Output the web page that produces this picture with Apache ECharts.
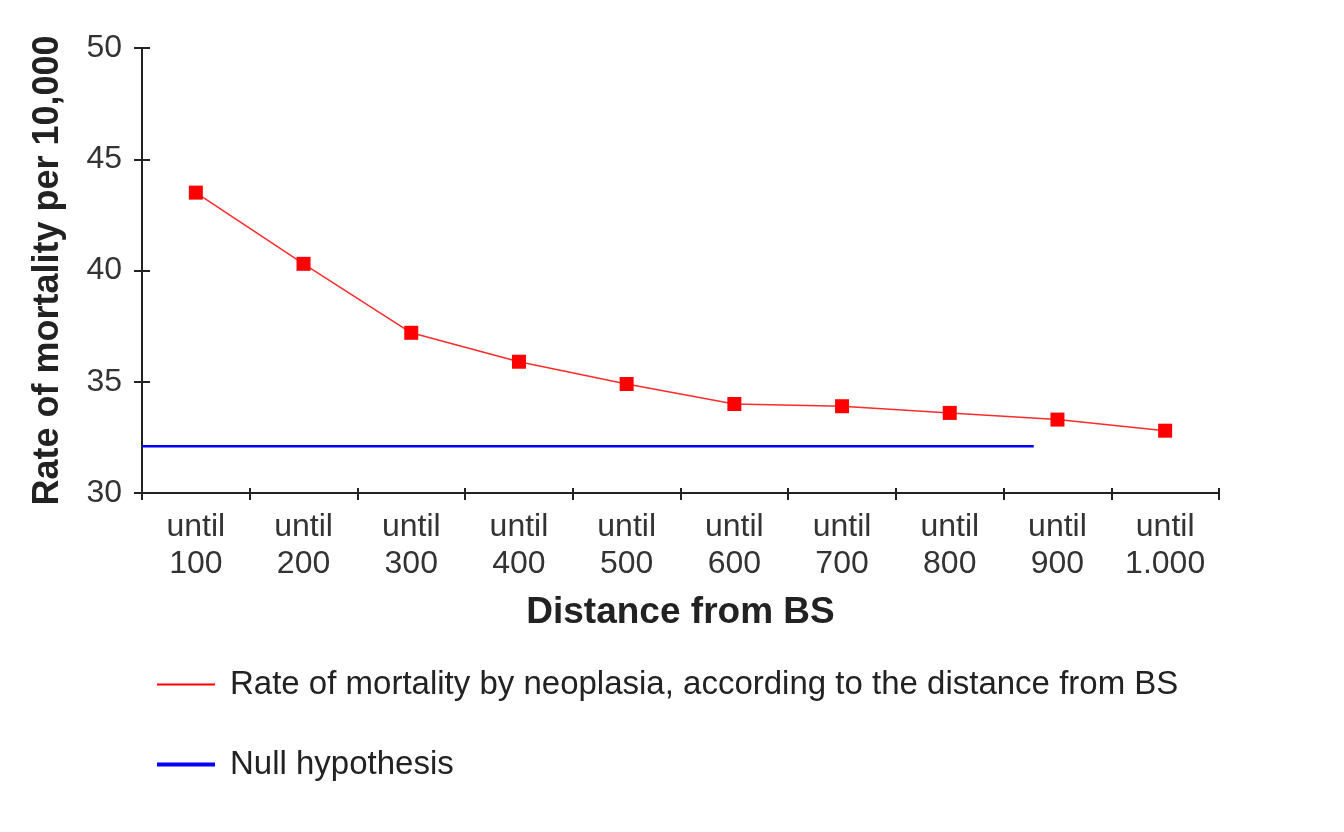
<!DOCTYPE html>
<html>
<head>
<meta charset="utf-8">
<script src="https://cdn.jsdelivr.net/npm/echarts@6/dist/echarts.min.js"></script>
<style>
  html, body { margin: 0; padding: 0; background: #fff; }
  #chart { width: 1344px; height: 832px; }
</style>
</head>
<body>
<div id="chart"></div>
<script>
// categories (distance from BS)
var categories = ['until\n100', 'until\n200', 'until\n300', 'until\n400', 'until\n500',
  'until\n600', 'until\n700', 'until\n800', 'until\n900', 'until\n1.000']
// rate of mortality per 10,000
var mortality = [43.5, 40.3, 37.2, 35.9, 34.9, 34.0, 33.9, 33.6, 33.3, 32.8]
// null hypothesis: [position along the axis (in categories), value]
var nullHypothesis = [[0, 32.1], [8.28, 32.1]]
var yTicks = { min: 30, max: 50, interval: 5 }

var redName = 'Rate of mortality by neoplasia, according to the distance from BS'
var blueName = 'Null hypothesis'

var chart = echarts.init(document.getElementById('chart'))
var font = "'Liberation Sans', Arial, sans-serif"
var tickStyle = { color: '#222', width: 2 }
var option = {
  backgroundColor: '#fff',
  animation: false,
  grid: { left: 142, right: 125, top: 48, bottom: 339 },
  legend: [{
    data: [redName],
    orient: 'vertical',
    left: 152,
    top: 663,
    icon: 'rect',
    itemWidth: 58,
    itemHeight: 2,
    textStyle: { fontFamily: font, fontSize: 33, color: '#222', padding: [0, 0, 0, 10] }
  }, {
    data: [blueName],
    orient: 'vertical',
    left: 152,
    top: 743,
    icon: 'rect',
    itemWidth: 58,
    itemHeight: 4,
    textStyle: { fontFamily: font, fontSize: 33, color: '#222', padding: [0, 0, 0, 10] }
  }],
  xAxis: [{
    type: 'category',
    data: categories,
    boundaryGap: true,
    name: 'Distance from BS',
    nameLocation: 'middle',
    nameGap: 101,
    nameTextStyle: { fontFamily: font, fontSize: 37, fontWeight: 'bold', color: '#222' },
    axisLine: { lineStyle: { color: '#222', width: 2 } },
    axisTick: { show: true, length: 7, lineStyle: tickStyle },
    axisLabel: { fontFamily: font, fontSize: 32, color: '#333', lineHeight: 37, margin: 16 },
    splitLine: { show: false }
  }, {
    type: 'value',
    min: 0,
    max: 10,
    show: false
  }, {
    // inner half of the crossing ticks
    type: 'category',
    data: categories,
    position: 'bottom',
    axisLine: { show: false },
    axisTick: { show: true, inside: true, length: 5, lineStyle: tickStyle },
    axisLabel: { show: false },
    splitLine: { show: false }
  }],
  yAxis: [{
    type: 'value',
    min: yTicks.min,
    max: yTicks.max,
    interval: yTicks.interval,
    name: 'Rate of mortality per 10,000',
    nameLocation: 'middle',
    nameGap: 76,
    nameTextStyle: { fontFamily: font, fontSize: 36, fontWeight: 'bold', color: '#222' },
    axisLine: { show: true, lineStyle: { color: '#222', width: 2 } },
    axisTick: { show: true, length: 8, lineStyle: tickStyle },
    axisLabel: { fontFamily: font, fontSize: 32, color: '#333', margin: 20 },
    splitLine: { show: false }
  }, {
    type: 'value',
    min: yTicks.min,
    max: yTicks.max,
    interval: yTicks.interval,
    position: 'left',
    axisLine: { show: false },
    axisTick: { show: true, inside: true, length: 8, lineStyle: tickStyle },
    axisLabel: { show: false },
    splitLine: { show: false }
  }],
  series: [{
    name: redName,
    type: 'line',
    data: mortality,
    symbol: 'rect',
    symbolSize: 14,
    itemStyle: { color: '#ff0000' },
    lineStyle: { color: '#ff2a2a', width: 1.5 }
  }, {
    name: blueName,
    type: 'line',
    xAxisIndex: 1,
    data: nullHypothesis,
    symbol: 'none',
    itemStyle: { color: '#0000ff' },
    lineStyle: { color: '#0000ff', width: 2.5 }
  }]
}
chart.setOption(option)
window.addEventListener('resize', function () {
  chart.resize()
})
</script>
</body>
</html>
